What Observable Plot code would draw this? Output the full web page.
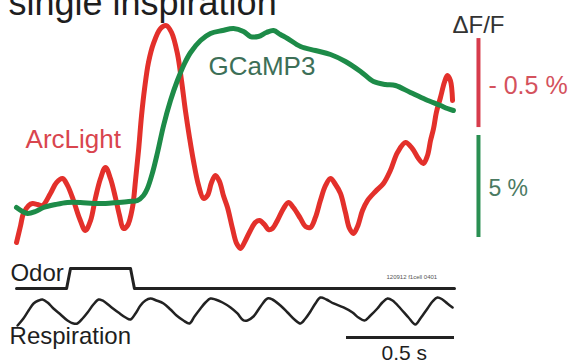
<!DOCTYPE html>
<html>
<head>
<meta charset="utf-8">
<script src="https://cdn.jsdelivr.net/npm/d3@7"></script>
<script src="https://cdn.jsdelivr.net/npm/@observablehq/plot@0.6"></script>
<style>
  html, body { margin: 0; padding: 0; background: #fff; }
  #chart svg { display: block; overflow: hidden; }
</style>
</head>
<body>
<div id="chart"></div>
<script>
// Single inspiration: ArcLight (voltage) and GCaMP3 (calcium) responses,
// with the odor command and respiration recorded underneath.

const title = "single inspiration";
const seriesNames = ["ArcLight", "GCaMP3"];

// Time (s) from the start of the sweep
const arcTime = [0, 0.019, 0.032, 0.056, 0.074, 0.097, 0.120, 0.157, 0.185, 0.213, 0.236, 0.264, 0.292, 0.319,
  0.343, 0.366, 0.389, 0.412, 0.435, 0.458, 0.477, 0.495, 0.514, 0.537, 0.551, 0.565, 0.579, 0.593, 0.611,
  0.634, 0.667, 0.694, 0.718, 0.745, 0.764, 0.782, 0.801, 0.819, 0.843, 0.866, 0.884, 0.903, 0.921, 0.940,
  0.958, 0.977, 1.000, 1.019, 1.037, 1.060, 1.083, 1.106, 1.125, 1.148, 1.167, 1.185, 1.208, 1.236, 1.259,
  1.282, 1.315, 1.338, 1.361, 1.384, 1.407, 1.431, 1.454, 1.477, 1.500, 1.523, 1.542, 1.560, 1.579, 1.602,
  1.625, 1.662, 1.699, 1.731, 1.764, 1.801, 1.833, 1.861, 1.884, 1.903, 1.917, 1.931, 1.944, 1.963, 1.981,
  1.995, 2.009, 2.019];
// ArcLight ΔF/F (%) — fluorescence falls on depolarization, so the trace is drawn inverted
const arcDff = [0.152, 0.056, -0.011, -0.056, -0.067, -0.062, -0.056, -0.124, -0.185, -0.208, -0.169, -0.084,
  0.017, 0.084, 0.028, -0.101, -0.208, -0.270, -0.208, -0.101, 0, 0.073, 0.056, -0.045, -0.197, -0.365,
  -0.562, -0.713, -0.860, -0.966, -1.051, -1.067, -1.028, -0.910, -0.758, -0.590, -0.438, -0.309, -0.169,
  -0.096, -0.112, -0.185, -0.225, -0.191, -0.112, -0.045, 0.073, 0.157, 0.185, 0.140, 0.084, 0.039, 0.028,
  0.051, 0.079, 0.073, 0.028, -0.039, -0.073, -0.045, 0.017, 0.062, 0.067, 0.011, -0.084, -0.169, -0.208,
  -0.174, -0.124, -0.017, 0.073, 0.101, 0.062, -0.028, -0.084, -0.135, -0.180, -0.253, -0.354, -0.410,
  -0.376, -0.320, -0.292, -0.337, -0.421, -0.489, -0.579, -0.663, -0.747, -0.787, -0.758, -0.646];

const gcampTime = [0, 0.028, 0.051, 0.088, 0.125, 0.181, 0.236, 0.296, 0.356, 0.412, 0.468, 0.519, 0.560,
  0.588, 0.606, 0.630, 0.653, 0.681, 0.713, 0.745, 0.778, 0.806, 0.852, 0.898, 0.954, 1.005, 1.051, 1.083,
  1.120, 1.157, 1.190, 1.222, 1.255, 1.315, 1.384, 1.454, 1.523, 1.593, 1.653, 1.708, 1.755, 1.824, 1.894,
  1.963, 1.995, 2.023];
// GCaMP3 ΔF/F (%)
const gcampDff = [-0.196, -0.392, -0.490, -0.392, -0.196, -0.049, 0.049, 0.049, 0, 0, 0.049, 0.098, 0.147,
  0.392, 0.735, 1.52, 2.5, 3.824, 5.049, 6.029, 6.863, 7.402, 7.99, 8.333, 8.48, 8.578, 8.431, 8.186, 8.186,
  8.382, 8.48, 8.284, 8.088, 7.696, 7.5, 7.304, 6.961, 6.471, 5.98, 5.833, 5.784, 5.441, 5.098, 4.804,
  4.657, 4.559];

// Odor valve command (0 = closed, 1 = open)
const odorTime = [0, 0.232, 0.250, 0.528, 0.546, 2.028];
const odorState = [0, 0, 1, 1, 0, 0];

// Respiration (normalized, 1 = peak)
const respTime = [0.005, 0.032, 0.056, 0.079, 0.102, 0.120, 0.144, 0.171, 0.204, 0.236, 0.264, 0.282, 0.306,
  0.329, 0.356, 0.380, 0.398, 0.435, 0.472, 0.505, 0.528, 0.551, 0.574, 0.597, 0.620, 0.648, 0.681, 0.713,
  0.741, 0.773, 0.801, 0.824, 0.852, 0.875, 0.898, 0.921, 0.954, 0.991, 1.023, 1.051, 1.069, 1.097, 1.130,
  1.162, 1.185, 1.222, 1.255, 1.287, 1.315, 1.338, 1.361, 1.384, 1.407, 1.435, 1.468, 1.514, 1.556, 1.583,
  1.611, 1.639, 1.671, 1.694, 1.718, 1.741, 1.778, 1.815, 1.847, 1.870, 1.903, 1.926, 1.949, 1.972, 1.995,
  2.019];
const respValue = [0, 0.25, 0.536, 0.786, 0.893, 0.929, 0.821, 0.607, 0.393, 0.179, 0.071, 0.071, 0.25, 0.464,
  0.75, 0.929, 0.893, 0.679, 0.464, 0.286, 0.214, 0.429, 0.714, 0.893, 0.964, 0.893, 0.786, 0.571, 0.357,
  0.179, 0.071, 0.321, 0.607, 0.821, 0.964, 0.929, 0.821, 0.643, 0.429, 0.179, 0.179, 0.321, 0.679, 0.964,
  0.929, 0.714, 0.464, 0.214, 0.071, 0.25, 0.5, 0.786, 1.0, 0.929, 0.786, 0.643, 0.464, 0.286, 0.179, 0.357,
  0.607, 0.821, 0.964, 0.893, 0.607, 0.286, 0.036, 0.25, 0.607, 0.857, 1.0, 0.929, 0.786, 0.643];

// Scale bars
const arcBar = 0.5;   // % ΔF/F
const gcampBar = 5;   // % ΔF/F
const timeBar = 0.5;  // s

// The shared vertical axis is in GCaMP3 % ΔF/F; the other traces are placed on it
// with their own gain and offset.
const ARC_GAIN = -8.725, ARC_BASE = -0.588;
const ODOR_GAIN = 0.98, ODOR_BASE = -4.167;
const RESP_GAIN = 1.3725, RESP_BASE = -5.98;
const arcY = v => ARC_BASE + v * ARC_GAIN;

const arc = arcTime.map((t, i) => ({t, y: arcY(arcDff[i])}));
const gcamp = gcampTime.map((t, i) => ({t, y: gcampDff[i]}));
const odor = odorTime.map((t, i) => ({t, y: ODOR_BASE + odorState[i] * ODOR_GAIN}));
const resp = respTime.map((t, i) => ({t, y: RESP_BASE + respValue[i] * RESP_GAIN}));

const tEnd = odorTime[odorTime.length - 1];
const barT = 2.139;
const arcBarStart = -0.494;   // ArcLight bar starts here and spans arcBar upward
const gcampBarStart = -1.667; // GCaMP3 bar starts here and spans gcampBar upward
const FONT = "'Liberation Sans', Arial, Helvetica, sans-serif";

const RED = "#e3302b", GREEN = "#1d8b48";

const chart = Plot.plot({
  width: 574,
  height: 364,
  margin: 0,
  style: {fontFamily: FONT, background: "#fff"},
  x: {domain: [0, tEnd], range: [16, 454], axis: null},
  y: {domain: [-7.892, 9.951], range: [364, 0], axis: null},
  marks: [
    Plot.text([title], {x: -0.037, y: 9.216, textAnchor: "start", lineAnchor: "bottom", fontSize: 36, fill: "#1e1e1e"}),

    Plot.line(arc, {x: "t", y: "y", stroke: RED, strokeWidth: 5, curve: "catmull-rom"}),
    Plot.line(gcamp, {x: "t", y: "y", stroke: GREEN, strokeWidth: 5, curve: "catmull-rom"}),

    Plot.text([seriesNames[0]], {x: 0.042, y: 2.745, textAnchor: "start", lineAnchor: "bottom", fontSize: 26, fill: "#d9454e"}),
    Plot.text([seriesNames[1]], {x: 0.889, y: 6.275, textAnchor: "start", lineAnchor: "bottom", fontSize: 26, fill: "#3d6f57"}),

    // ΔF/F scale bars
    Plot.ruleX([barT], {x: d => d, y1: arcY(arcBarStart), y2: arcY(arcBarStart - arcBar), stroke: "#d73c4c", strokeWidth: 4}),
    Plot.ruleX([barT], {x: d => d, y1: gcampBarStart, y2: gcampBarStart + gcampBar, stroke: "#2a8f52", strokeWidth: 4}),
    Plot.text(["ΔF/F"], {x: barT, y: 8.382, textAnchor: "middle", lineAnchor: "bottom", fontSize: 24, fill: "#333"}),
    Plot.text([`- ${arcBar} %`], {x: 2.185, y: 5.392, textAnchor: "start", lineAnchor: "bottom", fontSize: 25, fill: "#d4525d"}),
    Plot.text([`${gcampBar} %`], {x: 2.185, y: 0.392, textAnchor: "start", lineAnchor: "bottom", fontSize: 23, fill: "#4b7a62"}),

    // Odor command and respiration
    Plot.line(odor, {x: "t", y: "y", stroke: "#222", strokeWidth: 3}),
    Plot.text(["Odor"], {x: -0.028, y: -3.775, textAnchor: "start", lineAnchor: "bottom", fontSize: 24, fill: "#1e1e1e"}),
    Plot.text(["120912 f1cell 0401"], {x: 1.713, y: -3.725, textAnchor: "start", lineAnchor: "bottom", fontSize: 6, fill: "#555"}),
    Plot.line(resp, {x: "t", y: "y", stroke: "#222", strokeWidth: 2.5, curve: "catmull-rom"}),
    Plot.text(["Respiration"], {x: -0.032, y: -6.863, textAnchor: "start", lineAnchor: "bottom", fontSize: 24, fill: "#1e1e1e"}),

    // Time scale bar
    Plot.ruleY([-6.569], {x1: tEnd - timeBar, x2: tEnd, y: d => d, stroke: "#222", strokeWidth: 3}),
    Plot.text([`${timeBar} s`], {x: 1.69, y: -7.647, textAnchor: "start", lineAnchor: "bottom", fontSize: 21, fill: "#1e1e1e"})
  ]
});

document.getElementById("chart").append(chart);
</script>
</body>
</html>
